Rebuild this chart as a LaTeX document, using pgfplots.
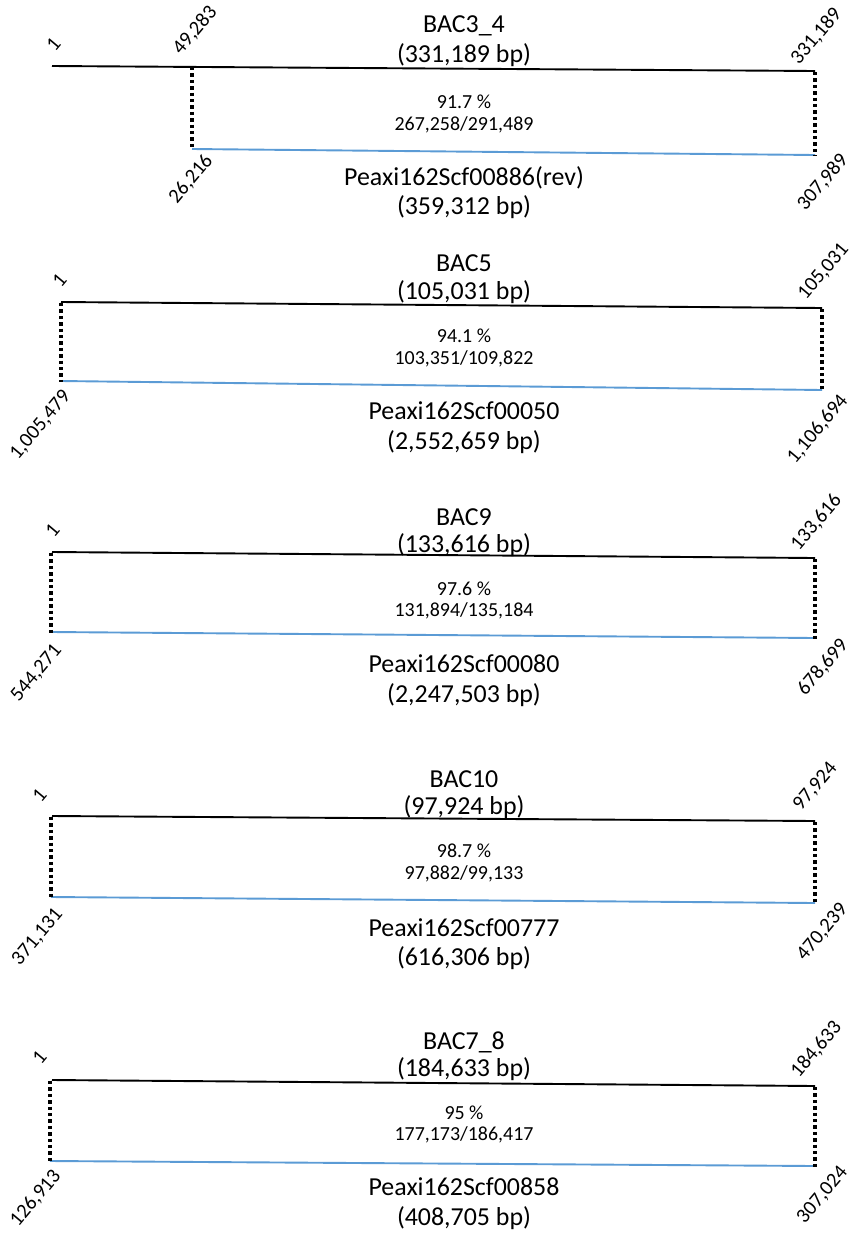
\documentclass[border=0pt]{standalone}
\usepackage{fontspec}
\setmainfont{Carlito}
\usepackage{pgfplots}
\pgfplotsset{compat=1.18}
\definecolor{bl}{HTML}{5B9BD5}
\tikzset{
  tt/.style={font=\fontsize{26}{30}\selectfont, anchor=base, inner sep=0pt},
  mt/.style={font=\fontsize{20}{24}\selectfont, anchor=base, inner sep=0pt},
  tl/.style={font=\fontsize{20.5}{24}\selectfont, rotate=50, anchor=base west, inner sep=0pt},
  bll/.style={font=\fontsize{20.5}{24}\selectfont, rotate=50, anchor=north east, inner sep=0pt},
}
\pgfplotsset{
  top/.style={black, line width=1.9bp},
  bot/.style={bl, line width=1.9bp},
  dots/.style={black, line width=3.8bp, dash pattern=on 3.4bp off 3bp},
}
\begin{document}
\begin{tikzpicture}
\begin{axis}[name=ax, scale only axis, width=852bp, height=1234bp,
  xmin=0, xmax=852, ymin=0, ymax=1234, y dir=reverse, hide axis, clip=false]
% ---------- Panel 1: BAC3_4
\addplot[top] coordinates {(52,66) (815,71)};
\addplot[bot] coordinates {(192,149) (815,155)};
\addplot[dots] coordinates {(192,67) (192,150)};
\addplot[dots] coordinates {(815,72) (815,156)};
\node[tt] at (axis cs:464,32) {BAC3\_4};
\node[tt] at (axis cs:464,62) {(331,189 bp)};
\node[mt] at (axis cs:464,108) {91.7 \%};
\node[mt] at (axis cs:464,130) {267,258/291,489};
\node[tt] at (axis cs:464,185) {Peaxi162Scf00886(rev)};
\node[tt] at (axis cs:464,214) {(359,312 bp)};
\node[tl] at (axis cs:55,53) {1};
\node[tl] at (axis cs:181,56) {49,283};
\node[tl] at (axis cs:799,66) {331,189};
\node[bll] at (axis cs:203,152) {26,216};
\node[bll] at (axis cs:838,151) {307,989};
% ---------- Panel 2: BAC5
\addplot[top] coordinates {(61,302) (822,308)};
\addplot[bot] coordinates {(61,381) (822,390)};
\addplot[dots] coordinates {(61,303) (61,382)};
\addplot[dots] coordinates {(822,309) (822,391)};
\node[tt] at (axis cs:464,271) {BAC5};
\node[tt] at (axis cs:464,299) {(105,031 bp)};
\node[mt] at (axis cs:464,342) {94.1 \%};
\node[mt] at (axis cs:464,364) {103,351/109,822};
\node[tt] at (axis cs:464,419) {Peaxi162Scf00050};
\node[tt] at (axis cs:464,449) {(2,552,659 bp)};
\node[tl] at (axis cs:61,289) {1};
\node[tl] at (axis cs:806,301) {105,031};
\node[bll] at (axis cs:61,388) {1,005,479};
\node[bll] at (axis cs:838,392) {1,106,694};
% ---------- Panel 3: BAC9
\addplot[top] coordinates {(52,552) (815,558)};
\addplot[bot] coordinates {(52,632) (815,638)};
\addplot[dots] coordinates {(51,553) (51,633)};
\addplot[dots] coordinates {(815,559) (815,639)};
\node[tt] at (axis cs:464,525) {BAC9};
\node[tt] at (axis cs:464,552) {(133,616 bp)};
\node[mt] at (axis cs:464,595) {97.6 \%};
\node[mt] at (axis cs:464,616) {131,894/135,184};
\node[tt] at (axis cs:464,672) {Peaxi162Scf00080};
\node[tt] at (axis cs:464,702) {(2,247,503 bp)};
\node[tl] at (axis cs:54,539) {1};
\node[tl] at (axis cs:799,552) {133,616};
\node[bll] at (axis cs:52,642) {544,271};
\node[bll] at (axis cs:838,636) {678,699};
% ---------- Panel 4: BAC10
\addplot[top] coordinates {(52,816) (815,821)};
\addplot[bot] coordinates {(51,897) (815,903)};
\addplot[dots] coordinates {(51,817) (51,898)};
\addplot[dots] coordinates {(815,822) (815,904)};
\node[tt] at (axis cs:464,787) {BAC10};
\node[tt] at (axis cs:464,814) {(97,924 bp)};
\node[mt] at (axis cs:464,857) {98.7 \%};
\node[mt] at (axis cs:464,879) {97,882/99,133};
\node[tt] at (axis cs:464,936) {Peaxi162Scf00777};
\node[tt] at (axis cs:464,965) {(616,306 bp)};
\node[tl] at (axis cs:41,804) {1};
\node[tl] at (axis cs:801,812) {97,924};
\node[bll] at (axis cs:53,906) {371,131};
\node[bll] at (axis cs:838,901) {470,239};
% ---------- Panel 5: BAC7_8
\addplot[top] coordinates {(52,1080) (815,1086)};
\addplot[bot] coordinates {(50,1161) (815,1166)};
\addplot[dots] coordinates {(50,1081) (50,1162)};
\addplot[dots] coordinates {(815,1087) (815,1167)};
\node[tt] at (axis cs:464,1049) {BAC7\_8};
\node[tt] at (axis cs:464,1076) {(184,633 bp)};
\node[mt] at (axis cs:464,1119) {95 \%};
\node[mt] at (axis cs:464,1140) {177,173/186,417};
\node[tt] at (axis cs:464,1195) {Peaxi162Scf00858};
\node[tt] at (axis cs:464,1225) {(408,705 bp)};
\node[tl] at (axis cs:41,1066) {1};
\node[tl] at (axis cs:799,1079) {184,633};
\node[bll] at (axis cs:51,1167) {126,913};
\node[bll] at (axis cs:838,1164) {307,024};
\end{axis}
\pgfresetboundingbox
\path (ax.south west) rectangle (ax.north east);
\end{tikzpicture}
\end{document}
